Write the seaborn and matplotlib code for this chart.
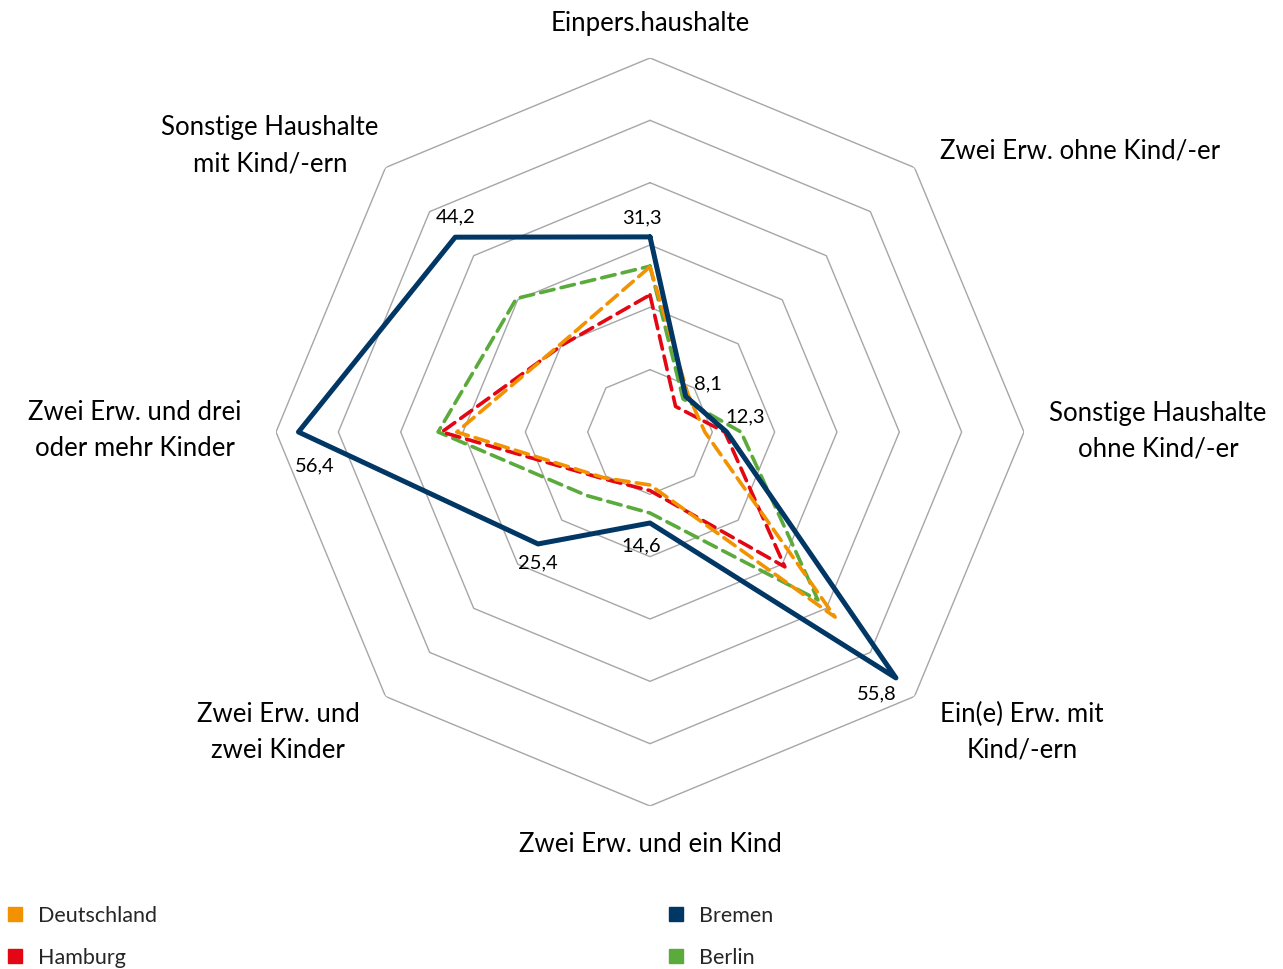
import numpy as np
import pandas as pd
import matplotlib
matplotlib.use("Agg")
import matplotlib.pyplot as plt
from matplotlib.lines import Line2D
import seaborn as sns

# categories, clockwise from the top
categories = [
    "Einpers.haushalte",
    "Zwei Erw. ohne Kind/-er",
    "Sonstige Haushalte\nohne Kind/-er",
    "Ein(e) Erw. mit\nKind/-ern",
    "Zwei Erw. und ein Kind",
    "Zwei Erw. und\nzwei Kinder",
    "Zwei Erw. und drei\noder mehr Kinder",
    "Sonstige Haushalte\nmit Kind/-ern",
]

deutschland = [26.5, 8.6, 8.8, 42.0, 8.5, 10.4, 31.0, 20.1]
hamburg = [22.0, 5.8, 12.0, 30.6, 9.4, 10.6, 33.4, 19.8]
bremen = [31.3, 8.1, 12.3, 55.8, 14.6, 25.4, 56.4, 44.2]
berlin = [26.6, 7.5, 14.6, 38.1, 13.0, 14.4, 34.0, 30.3]

rings = [10, 20, 30, 40, 50, 60]

colors = {
    "Deutschland": "#F39200",
    "Hamburg": "#E30613",
    "Bremen": "#003764",
    "Berlin": "#5BAA3C",
}

W, H = 1283, 969
sns.set_theme(style="white")
plt.rcParams["font.family"] = ["Lato", "DejaVu Sans"]

fig = plt.figure(figsize=(W / 100, H / 100), dpi=100)
cx, cy, R = 650, 432, 374
ax = fig.add_axes([(cx - R) / W, (H - cy - R) / H, 2 * R / W, 2 * R / H], projection="polar")
ax.set_theta_zero_location("N")
ax.set_theta_direction(-1)

n = len(categories)
theta = np.linspace(0, 2 * np.pi, n, endpoint=False)
theta_closed = np.append(theta, 2 * np.pi)

# octagonal grid
for r in rings:
    ax.plot(theta_closed, [r] * (n + 1), color="#A6A6A6", lw=1, zorder=1)

series = {"Deutschland": deutschland, "Hamburg": hamburg, "Bremen": bremen, "Berlin": berlin}
draw_order = ["Berlin", "Hamburg", "Deutschland", "Bremen"]
for name in draw_order:
    vals = series[name]
    df = pd.DataFrame({"theta": theta_closed, "wert": vals + vals[:1]})
    if name == "Bremen":
        sns.lineplot(data=df, x="theta", y="wert", ax=ax, sort=False, estimator=None,
                     color=colors[name], lw=3.6, zorder=5, legend=False)
    else:
        line = sns.lineplot(data=df, x="theta", y="wert", ax=ax, sort=False, estimator=None,
                            color=colors[name], lw=2.6, zorder=4, legend=False).lines[-1]
        line.set_dashes((3.8, 2.0))
        line.set_dash_capstyle("round")

ax.set_ylim(0, 60)
ax.set_axis_off()

# data labels for Bremen (offsets in pixels)
offsets = [(-8, 19), (22, 12), (19, 15), (-19, -16), (-9, -23), (0, -19), (16, -34), (0, 20)]
for t, v, off in zip(theta, bremen, offsets):
    ax.annotate(f"{v:.1f}".replace(".", ","), (t, v), xytext=off, textcoords="offset pixels",
                ha="center", va="center", fontsize=14.5, color="black", zorder=6)

# category labels (pixel centres)
label_pos = [(650, 23), (1080, 151), (1158, 431), (1022, 732),
             (650, 844), (278, 732), (135, 431), (270, 146)]
for lab, (px, py) in zip(categories, label_pos):
    fig.text(px / W, 1 - py / H, lab, ha="center", va="center", fontsize=18.5,
             linespacing=1.55, color="black")

# legend
def handle(name):
    return Line2D([], [], marker="s", linestyle="none", markersize=10.5,
                  markerfacecolor=colors[name], markeredgecolor=colors[name], label=name)

for names, x0 in ((["Deutschland", "Hamburg"], 4), (["Bremen", "Berlin"], 665)):
    fig.legend(handles=[handle(nm) for nm in names], loc="upper left",
               bbox_to_anchor=(x0 / W, 1 - 906 / H), frameon=False, fontsize=15.5,
               handlelength=1.0, handletextpad=0.6, labelspacing=1.02,
               borderpad=0, borderaxespad=0)

fig.savefig("out.png", dpi=100)
